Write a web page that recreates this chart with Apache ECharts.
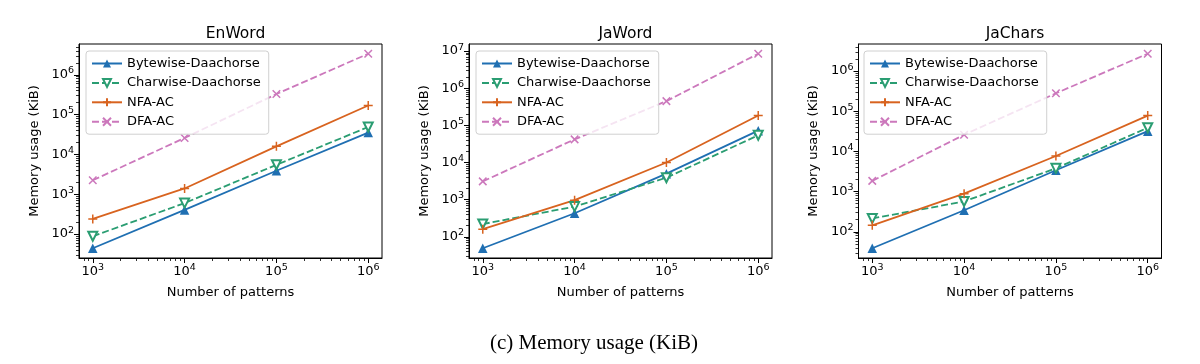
<!DOCTYPE html>
<html>
<head>
<meta charset="utf-8">
<script src="https://cdn.jsdelivr.net/npm/echarts@6/dist/echarts.min.js"></script>
<style>
html,body{margin:0;padding:0;background:#fff;}
#chart{width:1200px;height:364px;}
</style>
</head>
<body>
<div id="chart"></div>
<script>
// ---- data ----
const patterns = [1e3, 1e4, 1e5, 1e6];
const seriesNames = ['Bytewise-Daachorse', 'Charwise-Daachorse', 'NFA-AC', 'DFA-AC'];
const panelTitles = ['EnWord', 'JaWord', 'JaChars'];

const enBytewise = [44, 405, 3900, 35500];
const enCharwise = [88, 600, 5500, 49000];
const enNfa = [240, 1400, 16000, 170000];
const enDfa = [2250, 26000, 330000, 3400000];

const jwBytewise = [49, 430, 5000, 72000];
const jwCharwise = [220, 650, 3900, 54000];
const jwNfa = [160, 970, 10000, 185000];
const jwDfa = [3100, 42000, 450000, 8500000];

const jcBytewise = [39, 345, 3400, 32000];
const jcCharwise = [215, 570, 3800, 39000];
const jcNfa = [145, 890, 7700, 78000];
const jcDfa = [1850, 26000, 280000, 2700000];

const xTickValues = [1e3, 1e4, 1e5, 1e6];
const yTickValues = [1e2, 1e3, 1e4, 1e5, 1e6, 1e7];

const xLabel = 'Number of patterns';
const yLabel = 'Memory usage (KiB)';
const caption = '(c) Memory usage (KiB)';

const panelData = [
  [enBytewise, enCharwise, enNfa, enDfa],
  [jwBytewise, jwCharwise, jwNfa, jwDfa],
  [jcBytewise, jcCharwise, jcNfa, jcDfa]
];

// ---- styling ----
const colors = ['#1f6fb2', '#2a9d72', '#d8631f', '#cc78bc'];
const FONT = 'DejaVu Sans';
const gridLefts = [79, 469, 858.5];
const legendLefts = [86, 476, 864];
const GRID_TOP = 44, GRID_H = 214, GRID_W = 303;

function logExtent(vals) {
  const lo = Math.log10(Math.min.apply(null, vals));
  const hi = Math.log10(Math.max.apply(null, vals));
  const pad = 0.05 * (hi - lo);
  return [Math.pow(10, lo - pad), Math.pow(10, hi + pad)];
}
function minorValues(ext) {
  const out = [];
  const a = Math.floor(Math.log10(ext[0])), b = Math.ceil(Math.log10(ext[1]));
  for (let d = a; d <= b; d++) {
    for (let k = 2; k <= 9; k++) {
      const v = k * Math.pow(10, d);
      if (v > ext[0] && v < ext[1]) out.push(v);
    }
  }
  return out;
}
function majorValues(list, ext) {
  return list.filter(v => v >= ext[0] && v <= ext[1]);
}
const supFmt = v => '{b|10}{s|' + Math.round(Math.log10(v)) + '}';
const richLbl = {
  b: {fontSize: 13, fontFamily: FONT, color: '#000', lineHeight: 18},
  s: {fontSize: 9.5, fontFamily: FONT, color: '#000', lineHeight: 8, verticalAlign: 'top'}
};

const symbolDefs = [
  {symbol: 'triangle', symbolSize: 9.5, rotate: 0, dashed: false, empty: false},
  {symbol: 'emptyTriangle', symbolSize: 9, rotate: 180, dashed: true, empty: true},
  {symbol: 'path://M0,5L10,5M5,0L5,10', symbolSize: 9, rotate: 0, dashed: false, stroke: true},
  {symbol: 'path://M0,0L10,10M10,0L0,10', symbolSize: 7.5, rotate: 0, dashed: true, stroke: true}
];

const grids = [], xAxes = [], yAxes = [], series = [], legends = [], titles = [];

panelData.forEach((sets, p) => {
  grids.push({
    left: gridLefts[p], top: GRID_TOP, width: GRID_W, height: GRID_H,
    show: true, borderColor: '#000', borderWidth: 1, backgroundColor: 'transparent'
  });
  const xExt = logExtent(patterns);
  const allY = [].concat.apply([], sets);
  const yExt = logExtent(allY);

  xAxes.push({
    type: 'log', logBase: 10, gridIndex: p, position: 'bottom',
    min: xExt[0], max: xExt[1],
    name: xLabel, nameLocation: 'middle', nameGap: 28,
    nameTextStyle: {fontSize: 13, fontFamily: FONT, color: '#000'},
    axisLine: {show: true, lineStyle: {color: '#000', width: 1}},
    axisTick: {show: true, length: 5, lineStyle: {color: '#000', width: 1}, customValues: majorValues(xTickValues, xExt)},
    axisLabel: {show: true, margin: 5, formatter: supFmt, rich: richLbl, customValues: majorValues(xTickValues, xExt)},
    splitLine: {show: false}, minorTick: {show: false}
  });
  xAxes.push({
    type: 'log', logBase: 10, gridIndex: p, position: 'bottom',
    min: xExt[0], max: xExt[1],
    axisLine: {show: false},
    axisTick: {show: true, length: 3, lineStyle: {color: '#000', width: 0.8}, customValues: minorValues(xExt)},
    axisLabel: {show: false}, splitLine: {show: false}
  });
  yAxes.push({
    type: 'log', logBase: 10, gridIndex: p, position: 'left',
    min: yExt[0], max: yExt[1],
    name: yLabel, nameLocation: 'middle', nameGap: 38,
    nameTextStyle: {fontSize: 13, fontFamily: FONT, color: '#000'},
    axisLine: {show: true, lineStyle: {color: '#000', width: 1}},
    axisTick: {show: true, length: 5, lineStyle: {color: '#000', width: 1}, customValues: majorValues(yTickValues, yExt)},
    axisLabel: {show: true, margin: 5, formatter: supFmt, rich: richLbl, customValues: majorValues(yTickValues, yExt)},
    splitLine: {show: false}, minorTick: {show: false}
  });
  yAxes.push({
    type: 'log', logBase: 10, gridIndex: p, position: 'left',
    min: yExt[0], max: yExt[1],
    axisLine: {show: false},
    axisTick: {show: true, length: 3, lineStyle: {color: '#000', width: 0.8}, customValues: minorValues(yExt)},
    axisLabel: {show: false}, splitLine: {show: false}
  });

  sets.forEach((vals, s) => {
    const d = symbolDefs[s];
    series.push({
      type: 'line',
      name: seriesNames[s],
      xAxisIndex: 2 * p, yAxisIndex: 2 * p,
      data: patterns.map((x, j) => [x, vals[j]]),
      symbol: d.symbol, symbolSize: d.symbolSize, symbolRotate: d.rotate, symbolKeepAspect: true,
      showAllSymbol: true,
      lineStyle: {color: colors[s], width: 1.8, type: d.dashed ? [7, 3] : 'solid'},
      itemStyle: d.stroke
        ? {color: colors[s], borderColor: colors[s], borderWidth: 1.5}
        : (d.empty ? {color: colors[s], borderWidth: 1.3} : {color: colors[s]}),
      emphasis: {disabled: true},
      z: 3
    });
  });

  legends.push({
    orient: 'vertical', left: legendLefts[p], top: 51,
    data: seriesNames,
    selectedMode: false,
    backgroundColor: 'rgba(255,255,255,0.8)',
    borderColor: '#d0d0d0', borderWidth: 1, borderRadius: 3,
    padding: [6, 8, 6, 5],
    itemWidth: 30, itemHeight: 10, itemGap: 6.4,
    textStyle: {fontSize: 13, fontFamily: FONT, color: '#000'},
    z: 10
  });

  titles.push({
    text: panelTitles[p],
    left: gridLefts[p] + GRID_W / 2, top: 21, textAlign: 'center',
    textStyle: {fontSize: 15.5, fontWeight: 'normal', fontFamily: FONT, color: '#000'}
  });
});

titles.push({
  text: caption, left: 589, top: 328, textAlign: 'center',
  textStyle: {fontSize: 21, fontWeight: 'normal', fontFamily: 'Liberation Serif', color: '#000'}
});

const chart = echarts.init(document.getElementById('chart'), null, {renderer: 'canvas'});
chart.setOption({
  animation: false,
  backgroundColor: '#fff',
  title: titles,
  legend: legends,
  grid: grids,
  xAxis: xAxes,
  yAxis: yAxes,
  series: series
});
</script>
</body>
</html>
